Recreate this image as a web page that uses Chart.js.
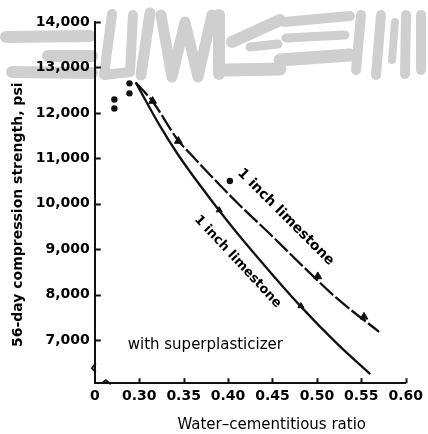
<!DOCTYPE html>
<html>
<head>
<meta charset="utf-8">
<script src="https://cdn.jsdelivr.net/npm/chart.js@4/dist/chart.umd.min.js"></script>
<style>
  html, body { margin: 0; padding: 0; background: #ffffff; }
  #wrap { width: 428px; height: 434px; position: relative; }
</style>
</head>
<body>
<div id="wrap"><canvas id="c" width="428" height="434"></canvas></div>
<script>
// ---------- data ----------
const xTickValues = [0.25, 0.30, 0.35, 0.40, 0.45, 0.50, 0.55, 0.60];
const xTickLabels = ['0', '0.30', '0.35', '0.40', '0.45', '0.50', '0.55', '0.60'];
const yTickValues = [7000, 8000, 9000, 10000, 11000, 12000, 13000, 14000];

// dashed curve (upper)
const upperX = [0.296, 0.315, 0.344, 0.357, 0.379, 0.412, 0.449, 0.486, 0.523, 0.570];
const upperY = [12670, 12250, 11390, 11110, 10650, 9990, 9300, 8590, 7910, 7180];
// solid curve (lower)
const lowerX = [0.296, 0.324, 0.343, 0.357, 0.376, 0.390, 0.412, 0.449, 0.482, 0.523, 0.560];
const lowerY = [12670, 11690, 11100, 10710, 10210, 9850, 9310, 8460, 7735, 6915, 6250];

// triangle markers on the dashed curve
const upperMarkX = [0.315, 0.344, 0.501, 0.553];
const upperMarkY = [12260, 11380, 8400, 7510];
// single point above the dashed curve
const dotX = [0.402];
const dotY = [10500];
// markers on the solid curve
const lowerMarkX = [0.390, 0.482];
const lowerMarkY = [9860, 7750];
// scattered points at low ratio
const lowX = [0.272, 0.272, 0.289, 0.289];
const lowY = [12295, 12095, 12650, 12430];

const labelUpper = '1 inch limestone';
const labelLower = '1 inch limestone';
const labelSuper = 'with superplasticizer';
const NB = '\u00a0';
const xTitle = NB.repeat(9) + 'Water\u2013cementitious ratio';
const yTitle = '56-day compression strength, psi' + NB.repeat(5);

function pts(xs, ys) { return xs.map((x, i) => ({ x: x, y: ys[i] })); }

const FONT = "'DejaVu Sans', sans-serif";

// ---------- decorative plugin: scan smudge, inward ticks, axis breaks, labels ----------
const decor = {
  id: 'decor',
  beforeDraw(chart) {
    const ctx = chart.ctx;
    ctx.save();
    ctx.strokeStyle = '#cfcfcf';
    ctx.lineCap = 'round';
    ctx.lineJoin = 'round';
    const strokes = [
      [12, [[6, 37], [90, 36]]],
      [12, [[48, 56], [92, 56]]],
      [12, [[12, 72], [92, 73]]],
      [10, [[112, 14], [104, 75], [130, 72], [133, 15]]],
      [11, [[150, 13], [141, 75]]],
      [11, [[161, 15], [172, 77], [185, 22], [198, 77], [212, 15]]],
      [12, [[219, 15], [219, 74]]],
      [12, [[232, 42], [280, 20]]],
      [13, [[226, 70], [280, 69]]],
      [9,  [[250, 47], [278, 44]]],
      [10, [[284, 22], [350, 16]]],
      [9,  [[286, 38], [345, 35]]],
      [13, [[280, 60], [350, 55]]],
      [10, [[361, 15], [356, 70]]],
      [10, [[381, 15], [376, 75]]],
      [8,  [[395, 22], [392, 60]]],
      [10, [[406, 15], [405, 74]]],
      [10, [[421, 15], [421, 70]]]
    ];
    strokes.forEach(([w, p]) => {
      ctx.lineWidth = w;
      ctx.beginPath();
      ctx.moveTo(p[0][0], p[0][1]);
      for (let i = 1; i < p.length; i++) ctx.lineTo(p[i][0], p[i][1]);
      ctx.stroke();
    });
    ctx.restore();
  },
  afterDraw(chart) {
    const ctx = chart.ctx;
    const xs = chart.scales.x, ys = chart.scales.y;
    const a = chart.chartArea;
    ctx.save();
    ctx.strokeStyle = '#111';
    ctx.lineWidth = 2;
    // inward y ticks
    yTickValues.forEach(v => {
      const py = Math.round(ys.getPixelForValue(v)) + 0.5;
      ctx.beginPath(); ctx.moveTo(a.left, py); ctx.lineTo(a.left + 6, py); ctx.stroke();
    });
    // inward x ticks
    xTickValues.slice(1).forEach(v => {
      const px = Math.round(xs.getPixelForValue(v)) + 0.5;
      ctx.beginPath(); ctx.moveTo(px, a.bottom); ctx.lineTo(px, a.bottom - 5); ctx.stroke();
    });
    // axis break marks
    ctx.lineWidth = 1.8;
    ctx.beginPath();
    ctx.moveTo(a.left + 1, a.bottom - 20);
    ctx.lineTo(a.left - 3, a.bottom - 15);
    ctx.lineTo(a.left + 1, a.bottom - 11);
    ctx.stroke();
    ctx.beginPath();
    ctx.moveTo(a.left + 7, a.bottom);
    ctx.lineTo(a.left + 11, a.bottom - 3);
    ctx.lineTo(a.left + 16, a.bottom + 1);
    ctx.stroke();
    // text annotations
    ctx.fillStyle = '#000';
    ctx.textBaseline = 'middle';
    ctx.font = "15px " + FONT;
    ctx.textAlign = 'left';
    ctx.fillText(labelSuper, xs.getPixelForValue(0.287), ys.getPixelForValue(6890));

    ctx.font = "bold 14px " + FONT;
    ctx.save();
    ctx.translate(xs.getPixelForValue(0.413), ys.getPixelForValue(10720));
    ctx.rotate(45 * Math.PI / 180);
    ctx.fillText(labelUpper, 0, 0);
    ctx.restore();

    ctx.font = "bold 13px " + FONT;
    ctx.save();
    ctx.translate(xs.getPixelForValue(0.3645), ys.getPixelForValue(9700));
    ctx.rotate(47 * Math.PI / 180);
    ctx.fillText(labelLower, 0, 0);
    ctx.restore();
    ctx.restore();
  }
};

const black = '#111111';

new Chart(document.getElementById('c'), {
  type: 'scatter',
  data: {
    datasets: [
      {
        label: 'upper', data: pts(upperX, upperY), showLine: true,
        borderColor: black, borderWidth: 2.3, borderDash: [18, 3],
        pointRadius: 0, cubicInterpolationMode: 'monotone', fill: false
      },
      {
        label: 'lower', data: pts(lowerX, lowerY), showLine: true,
        borderColor: black, borderWidth: 2.3,
        pointRadius: 0, cubicInterpolationMode: 'monotone', fill: false
      },
      {
        label: 'upper markers', data: pts(upperMarkX, upperMarkY),
        pointStyle: 'triangle', pointRadius: 4.5,
        backgroundColor: black, borderColor: black, borderWidth: 1
      },
      {
        label: 'dot', data: pts(dotX, dotY),
        pointStyle: 'circle', pointRadius: 3.2,
        backgroundColor: black, borderColor: black, borderWidth: 0
      },
      {
        label: 'lower markers', data: pts(lowerMarkX, lowerMarkY),
        pointStyle: 'triangle', pointRadius: 3.5,
        backgroundColor: black, borderColor: black, borderWidth: 1
      },
      {
        label: 'low ratio', data: pts(lowX, lowY),
        pointStyle: 'circle', pointRadius: 3.2,
        backgroundColor: black, borderColor: black, borderWidth: 0
      }
    ]
  },
  options: {
    responsive: false,
    animation: false,
    events: [],
    layout: { padding: { left: 6, right: 19, top: 22, bottom: 0 } },
    plugins: { legend: { display: false }, tooltip: { enabled: false } },
    scales: {
      x: {
        type: 'linear', min: 0.25, max: 0.60,
        afterBuildTicks: (axis) => { axis.ticks = xTickValues.map(v => ({ value: v })); },
        ticks: {
          color: '#000', padding: 5, autoSkip: false, maxRotation: 0,
          font: { family: FONT, size: 14, weight: 'bold' },
          callback: (v) => {
            const i = xTickValues.findIndex(t => Math.abs(t - v) < 1e-6);
            return i >= 0 ? xTickLabels[i] : '';
          }
        },
        grid: { display: true, drawOnChartArea: false, drawTicks: false },
        border: { display: true, color: black, width: 2 },
        title: {
          display: true, text: xTitle, color: '#000',
          font: { family: FONT, size: 15 },
          padding: { top: 6, bottom: 0 }
        }
      },
      y: {
        type: 'linear', min: 6050, max: 14000,
        afterBuildTicks: (axis) => { axis.ticks = yTickValues.map(v => ({ value: v })); },
        ticks: {
          color: '#000', padding: 5, autoSkip: false,
          font: { family: FONT, size: 14, weight: 'bold' },
          callback: (v) => v.toLocaleString('en-US')
        },
        grid: { display: true, drawOnChartArea: false, drawTicks: false },
        border: { display: true, color: black, width: 2 },
        title: {
          display: true, text: yTitle, color: '#000',
          font: { family: FONT, size: 14, weight: 'bold' },
          padding: { top: 4, bottom: 4 }
        }
      }
    }
  },
  plugins: [decor]
});
</script>
</body>
</html>
